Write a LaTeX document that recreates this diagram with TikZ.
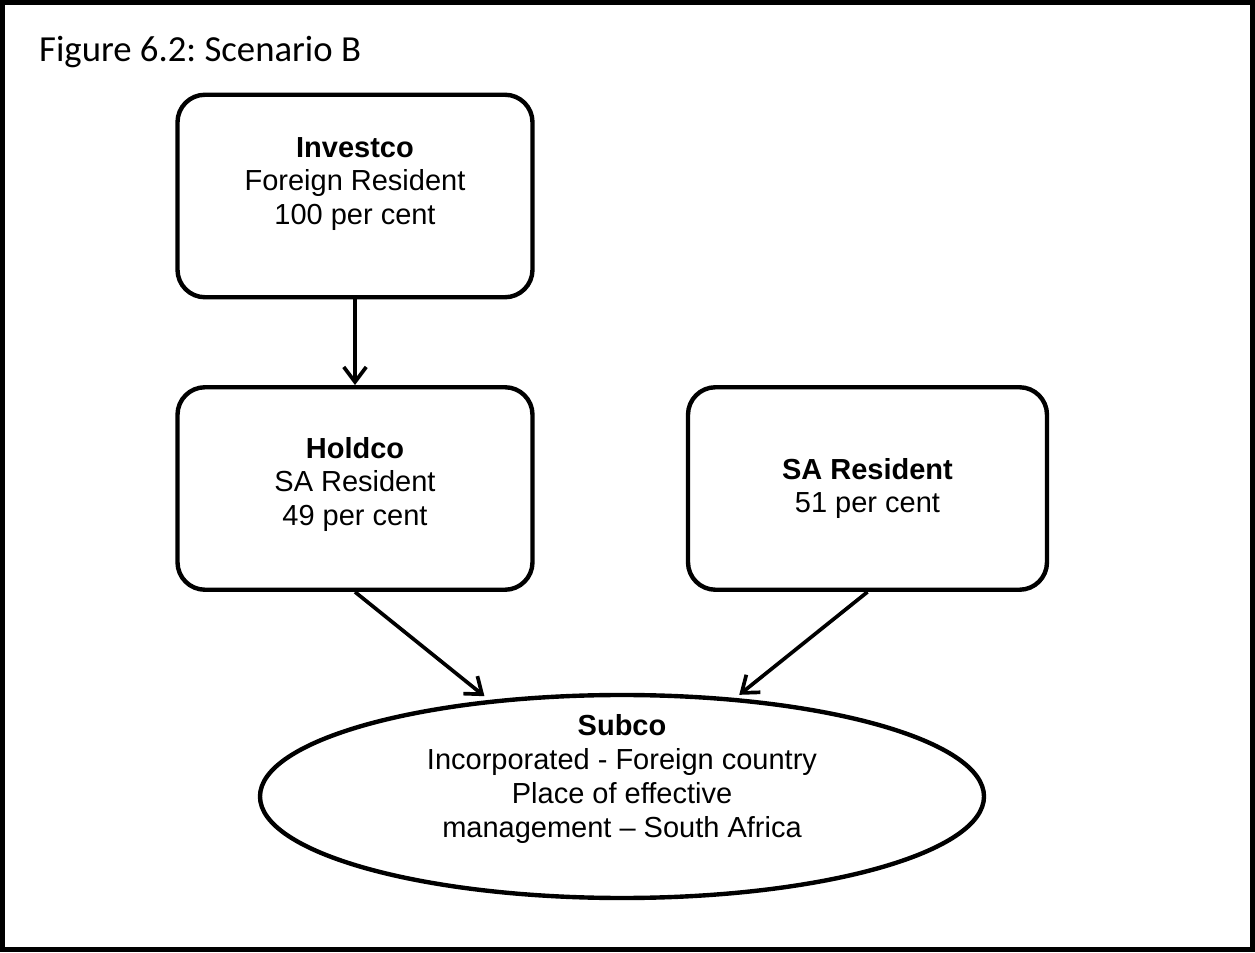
\documentclass[tikz,border=0pt]{standalone}
\usepackage{fontspec}
\setmainfont{Liberation Sans}
\newfontfamily\captionfont{Carlito}
\usetikzlibrary{shapes.geometric}
\usetikzlibrary{arrows.meta}
\frenchspacing

\begin{document}
\begin{tikzpicture}[line width=2.5pt,
    entity/.style={draw, rounded corners=0.55cm, minimum width=7.1cm, minimum height=4.05cm, inner sep=0pt},
    entitytext/.style={align=center, inner sep=0pt, font=\fontsize{16.5}{19.3}\selectfont},
    owns/.style={line width=2.1pt, -{Straight Barb[length=0.3cm,width=0.45cm]}}]
    \useasboundingbox (0,0) rectangle (25.1,19.04);
    % outer frame and caption
    \draw[line width=0.1cm] (0.05,0.05) rectangle (25.05,18.99);
    \node[anchor=base west, inner sep=0pt, font=\captionfont\fontsize{20.9}{24}\selectfont] (caption) at (0.74,17.8) {Figure 6.2: Scenario B};

    % the companies
    \node[entity] (investco) at (7.1,15.12) {};
    \node[entity] (holdco) at (7.1,9.27) {};
    \node[entity, minimum width=7.18cm] (saresident) at (17.35,9.27) {};
    \node[draw, ellipse, minimum width=14.48cm, minimum height=4.06cm, inner sep=0pt] (subco) at (12.44,3.11) {};

    \node[entitytext] (investcotxt) at ([yshift=0.24cm]investco.center) {\textbf{Investco}\\Foreign Resident\\100 per cent};
    \node[entitytext] (holdcotxt) at ([yshift=0.08cm]holdco.center) {\textbf{Holdco}\\SA Resident\\49 per cent};
    \node[entitytext] (saresidenttxt) at (saresident.center) {\textbf{SA Resident}\\51 per cent};
    \node[entitytext] (subcotxt) at ([yshift=0.35cm]subco.center) {\textbf{Subco}\\Incorporated - Foreign country\\Place of effective\\management – South Africa};

    % shareholdings
    \draw[owns] (investco) -- (holdco);
    \draw[owns, shorten >=0.12cm] (holdco.south) -- (subco.144);
    \draw[owns, shorten >=0.1cm] (saresident.south) -- (subco.41);
\end{tikzpicture}
\end{document}
